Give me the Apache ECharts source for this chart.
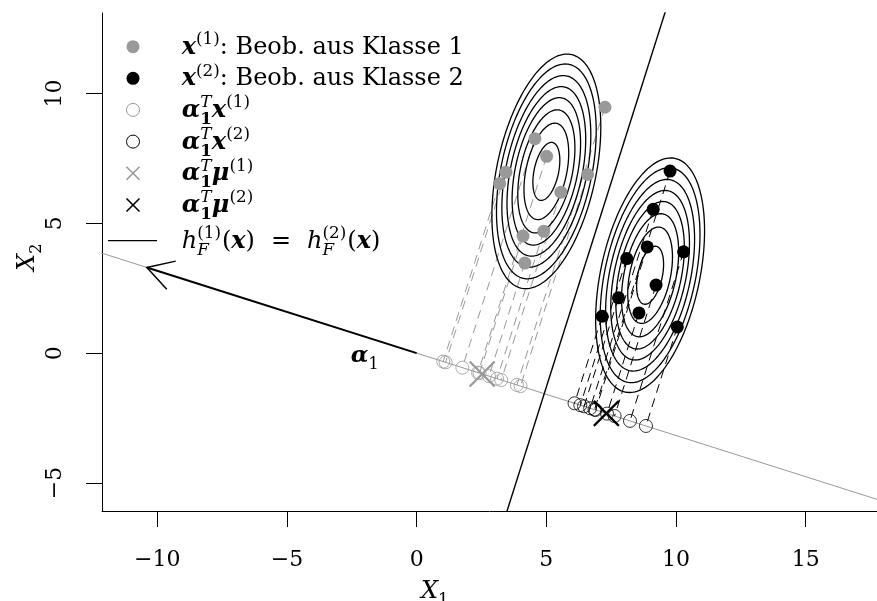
<!DOCTYPE html>
<html><head><meta charset="utf-8">
<script src="https://cdn.jsdelivr.net/npm/echarts@6/dist/echarts.min.js"></script>
<style>html,body{margin:0;padding:0;background:#fff}#c{width:877px;height:601px}</style>
</head><body><div id="c"></div>
<script>
// ---------- data ----------
const class1X = [7.26, 4.56, 5.01, 3.44, 3.20, 6.59, 5.56, 4.90, 4.10, 4.17];
const class1Y = [9.47, 8.26, 7.58, 6.97, 6.53, 6.88, 6.20, 4.69, 4.51, 3.47];
const class2X = [9.77, 9.12, 8.89, 10.29, 8.10, 9.23, 7.78, 7.15, 8.57, 10.05];
const class2Y = [7.01, 5.54, 4.09, 3.90, 3.64, 2.62, 2.13, 1.42, 1.55, 1.01];
const mu1 = [5.0, 7.0];
const mu2 = [9.0, 3.0];
const sigma = [[1.08, 0.88], [0.88, 5.0]];          // shared covariance of both classes
const contourRadii = [0.5, 0.83, 1.06, 1.27, 1.46, 1.65, 1.85, 2.02]; // Mahalanobis radii of the rings
const alpha1 = [-10.4, 3.3];                        // discriminant direction (arrow tip)
const alphaLabelPos = [-2.0, -0.12];
const xTicks = [-10, -5, 0, 5, 10, 15];
const yTicks = [-5, 0, 5, 10];
const xRange = [-12.13, 17.747];
const yRange = [-6.08, 13.1];

// ---------- derived ----------
const GRAY = '#999999';
const FONT = '"DejaVu Serif", "Liberation Serif", serif';
const an = Math.hypot(alpha1[0], alpha1[1]);
const u = [alpha1[0] / an, alpha1[1] / an];
function proj(p) { const d = p[0] * u[0] + p[1] * u[1]; return [d * u[0], d * u[1]]; }
const pts1 = class1X.map((x, i) => [x, class1Y[i]]);
const pts2 = class2X.map((x, i) => [x, class2Y[i]]);
const pr1 = pts1.map(proj), pr2 = pts2.map(proj);
const pm1 = proj(mu1), pm2 = proj(mu2);
const mid = [(pm1[0] + pm2[0]) / 2, (pm1[1] + pm2[1]) / 2];
const v = [u[1], -u[0]];
const L11 = Math.sqrt(sigma[0][0]), L21 = sigma[1][0] / L11, L22 = Math.sqrt(sigma[1][1] - L21 * L21);

const mctx = document.createElement('canvas').getContext('2d');
function fstr(it, b, s) { return (it ? 'italic ' : '') + (b ? 'bold ' : '') + s + 'px ' + FONT; }
function mathText(segs, x0, baseY, size, color) {
  const els = []; let x = x0; let sw = 0;
  for (const sg of segs) {
    const sz = size * (sg.k || 1);
    const f = fstr(sg.it, sg.b, sz);
    mctx.font = f;
    x += (sg.pl || 0);
    const w = mctx.measureText(sg.t).width;
    const by = baseY + (sg.dy || 0) * size;
    els.push({ type: 'text', x: x, y: by - 0.3 * sz, silent: true,
      style: { text: sg.t, font: f, fill: color || '#000', textAlign: 'left', textVerticalAlign: 'middle', align: 'left', verticalAlign: 'middle' } });
    if (sg.stack) sw = Math.max(sw, w); else { x += Math.max(w, sw) + (sg.pr || 0); sw = 0; }
  }
  return els;
}
const SUP = -0.42, SUB = 0.28, K = 0.7;
const legendRows = [
  { y: 46.7, sym: 'dot', c: GRAY, segs: [{ t: 'x', it: 1, b: 1 }, { t: '(1)', k: K, dy: SUP }, { t: ': Beob. aus Klasse 1' }] },
  { y: 78.3, sym: 'dot', c: '#000', segs: [{ t: 'x', it: 1, b: 1 }, { t: '(2)', k: K, dy: SUP }, { t: ': Beob. aus Klasse 2' }] },
  { y: 109.9, sym: 'ring', c: GRAY, segs: [{ t: 'α', it: 1, b: 1 }, { t: 'T', it: 1, k: K, dy: SUP, stack: 1 }, { t: '1', b: 1, k: K, dy: SUB }, { t: 'x', it: 1, b: 1 }, { t: '(1)', k: K, dy: SUP }] },
  { y: 141.6, sym: 'ring', c: '#000', segs: [{ t: 'α', it: 1, b: 1 }, { t: 'T', it: 1, k: K, dy: SUP, stack: 1 }, { t: '1', b: 1, k: K, dy: SUB }, { t: 'x', it: 1, b: 1 }, { t: '(2)', k: K, dy: SUP }] },
  { y: 173.3, sym: 'cross', c: GRAY, segs: [{ t: 'α', it: 1, b: 1 }, { t: 'T', it: 1, k: K, dy: SUP, stack: 1 }, { t: '1', b: 1, k: K, dy: SUB }, { t: 'μ', it: 1, b: 1 }, { t: '(1)', k: K, dy: SUP }] },
  { y: 205, sym: 'cross', c: '#000', segs: [{ t: 'α', it: 1, b: 1 }, { t: 'T', it: 1, k: K, dy: SUP, stack: 1 }, { t: '1', b: 1, k: K, dy: SUB }, { t: 'μ', it: 1, b: 1 }, { t: '(2)', k: K, dy: SUP }] },
  { y: 240.7, sym: 'line', c: '#000', segs: [{ t: 'h', it: 1 }, { t: '(1)', k: K, dy: SUP, stack: 1 }, { t: 'F', it: 1, k: K, dy: SUB }, { t: '(', pl: 1 }, { t: 'x', it: 1, b: 1 }, { t: ')' }, { t: '=', pl: 16, pr: 16 },
      { t: 'h', it: 1 }, { t: '(2)', k: K, dy: SUP, stack: 1 }, { t: 'F', it: 1, k: K, dy: SUB }, { t: '(', pl: 1 }, { t: 'x', it: 1, b: 1 }, { t: ')' }] }
];
const LEG_SIZE = 24;
const graphics = [];
legendRows.forEach(r => {
  const sx = 133;
  if (r.sym === 'dot') graphics.push({ type: 'circle', shape: { cx: sx, cy: r.y, r: 6.5 }, style: { fill: r.c }, silent: true });
  if (r.sym === 'ring') graphics.push({ type: 'circle', shape: { cx: sx, cy: r.y, r: 6.5 }, style: { fill: null, stroke: r.c, lineWidth: 1 }, silent: true });
  if (r.sym === 'cross') {
    graphics.push({ type: 'line', shape: { x1: sx - 6.5, y1: r.y - 6.5, x2: sx + 6.5, y2: r.y + 6.5 }, style: { stroke: r.c, lineWidth: 1.6 }, silent: true });
    graphics.push({ type: 'line', shape: { x1: sx - 6.5, y1: r.y + 6.5, x2: sx + 6.5, y2: r.y - 6.5 }, style: { stroke: r.c, lineWidth: 1.6 }, silent: true });
  }
  if (r.sym === 'line') graphics.push({ type: 'line', shape: { x1: 108, y1: r.y, x2: 157, y2: r.y }, style: { stroke: r.c, lineWidth: 1.2 }, silent: true });
  mathText(r.segs, 181.7, r.y + 8, LEG_SIZE).forEach(e => graphics.push(e));
});
// axis titles
graphics.push({ type: 'group', x: 437, y: 591, children: mathText([{ t: 'X', it: 1 }, { t: '1', k: K, dy: SUB }], -16, 8, 24) });
graphics.push({ type: 'group', x: 27, y: 255, rotation: Math.PI / 2, children: mathText([{ t: 'X', it: 1 }, { t: '2', k: K, dy: SUB }], -16, 8, 24) });

const fmt = val => String(val).replace('-', '\u2212');

const option = {
  animation: false,
  backgroundColor: '#fff',
  grid: { left: 102, right: 0, top: 13, bottom: 90, containLabel: false, outerBoundsMode: 'none' },
  xAxis: {
    type: 'value', min: xRange[0], max: xRange[1],
    axisLine: { onZero: false, lineStyle: { color: '#000', width: 1 } },
    axisTick: { show: true, length: 16, customValues: xTicks, lineStyle: { color: '#000' } },
    axisLabel: { customValues: xTicks, formatter: fmt, margin: 38, color: '#000', fontSize: 22, fontFamily: FONT },
    splitLine: { show: false }
  },
  yAxis: {
    type: 'value', min: yRange[0], max: yRange[1],
    axisLine: { onZero: false, lineStyle: { color: '#000', width: 1 } },
    axisTick: { show: true, length: 16, customValues: yTicks, lineStyle: { color: '#000' } },
    axisLabel: { customValues: yTicks, formatter: fmt, rotate: 90, margin: 36, color: '#000', fontSize: 22, fontFamily: FONT },
    splitLine: { show: false }
  },
  graphic: graphics,
  series: [
    { type: 'line', z: 1, symbol: 'none', silent: true, lineStyle: { color: GRAY, width: 1 },
      data: [[40 * u[0], 40 * u[1]], [-40 * u[0], -40 * u[1]]] },
    { type: 'line', z: 2, symbol: 'none', silent: true, lineStyle: { color: '#000', width: 1.4 },
      data: [[mid[0] - 30 * v[0], mid[1] - 30 * v[1]], [mid[0] + 30 * v[0], mid[1] + 30 * v[1]]] },
    { type: 'custom', z: 3, clip: true, silent: true, encode: { x: [0, 2], y: [1, 3] },
      data: pts1.map((p, i) => [p[0], p[1], pr1[i][0], pr1[i][1], 0]).concat(pts2.map((p, i) => [p[0], p[1], pr2[i][0], pr2[i][1], 1])),
      renderItem: (params, api) => {
        const a = api.coord([api.value(0), api.value(1)]), b = api.coord([api.value(2), api.value(3)]);
        return { type: 'line', shape: { x1: a[0], y1: a[1], x2: b[0], y2: b[1] },
          style: { stroke: api.value(4) ? '#000' : GRAY, lineWidth: 1, lineDash: [9, 6] } };
      } },
    { type: 'custom', z: 4, clip: true, silent: true, encode: { x: 0, y: 1 },
      data: [mu1, mu2].flatMap(m => contourRadii.map(r => [m[0], m[1], r])),
      renderItem: (params, api) => {
        const mx = api.value(0), my = api.value(1), r = api.value(2);
        const pts = [];
        for (let i = 0; i <= 180; i++) {
          const t = 2 * Math.PI * i / 180, a = r * Math.cos(t), b = r * Math.sin(t);
          pts.push(api.coord([mx + L11 * a, my + L21 * a + L22 * b]));
        }
        return { type: 'polyline', shape: { points: pts }, style: { stroke: '#000', lineWidth: 1.3, fill: null } };
      } },
    { type: 'scatter', z: 5, silent: true, symbol: 'circle', symbolSize: 13, itemStyle: { color: GRAY, opacity: 1 }, data: pts1 },
    { type: 'scatter', z: 5, silent: true, symbol: 'circle', symbolSize: 13, itemStyle: { color: '#000', opacity: 1 }, data: pts2 },
    { type: 'scatter', z: 6, silent: true, symbol: 'circle', symbolSize: 13, itemStyle: { color: 'rgba(0,0,0,0)', borderColor: GRAY, borderWidth: 1 }, data: pr1 },
    { type: 'scatter', z: 6, silent: true, symbol: 'circle', symbolSize: 13, itemStyle: { color: 'rgba(0,0,0,0)', borderColor: '#000', borderWidth: 1 }, data: pr2 },
    { type: 'custom', z: 7, clip: true, silent: true, encode: { x: 0, y: 1 },
      data: [[pm1[0], pm1[1], 0], [pm2[0], pm2[1], 1]],
      renderItem: (params, api) => {
        const c = api.coord([api.value(0), api.value(1)]), h = 12.5, col = api.value(2) ? '#000' : GRAY;
        return { type: 'group', children: [
          { type: 'line', shape: { x1: c[0] - h, y1: c[1] - h, x2: c[0] + h, y2: c[1] + h }, style: { stroke: col, lineWidth: 2.2 } },
          { type: 'line', shape: { x1: c[0] - h, y1: c[1] + h, x2: c[0] + h, y2: c[1] - h }, style: { stroke: col, lineWidth: 2.2 } }] };
      } },
    { type: 'custom', z: 8, clip: true, silent: true, encode: { x: [0, 2], y: [1, 3] },
      data: [[0, 0, alpha1[0], alpha1[1]]],
      renderItem: (params, api) => {
        const a = api.coord([api.value(0), api.value(1)]), b = api.coord([api.value(2), api.value(3)]);
        const ang = Math.atan2(a[1] - b[1], a[0] - b[0]), len = 29.5, d = Math.PI / 6;
        const b1 = [b[0] + len * Math.cos(ang + d), b[1] + len * Math.sin(ang + d)];
        const b2 = [b[0] + len * Math.cos(ang - d), b[1] + len * Math.sin(ang - d)];
        return { type: 'group', children: [
          { type: 'line', shape: { x1: a[0], y1: a[1], x2: b[0], y2: b[1] }, style: { stroke: '#000', lineWidth: 2 } },
          { type: 'polyline', shape: { points: [b1, b, b2] }, style: { stroke: '#000', lineWidth: 1.5, fill: null } }] };
      } },
    { type: 'custom', z: 9, silent: true, encode: { x: 0, y: 1 },
      data: [alphaLabelPos],
      renderItem: (params, api) => {
        const c = api.coord([api.value(0), api.value(1)]);
        return { type: 'group', children: mathText([{ t: 'α', it: 1, b: 1 }, { t: '1', k: K, dy: SUB }], c[0] - 14, c[1] + 7, 23) };
      } }
  ]
};
const chart = echarts.init(document.getElementById('c'), null, { renderer: 'canvas', width: 877, height: 601 });
chart.setOption(option);
</script></body></html>
